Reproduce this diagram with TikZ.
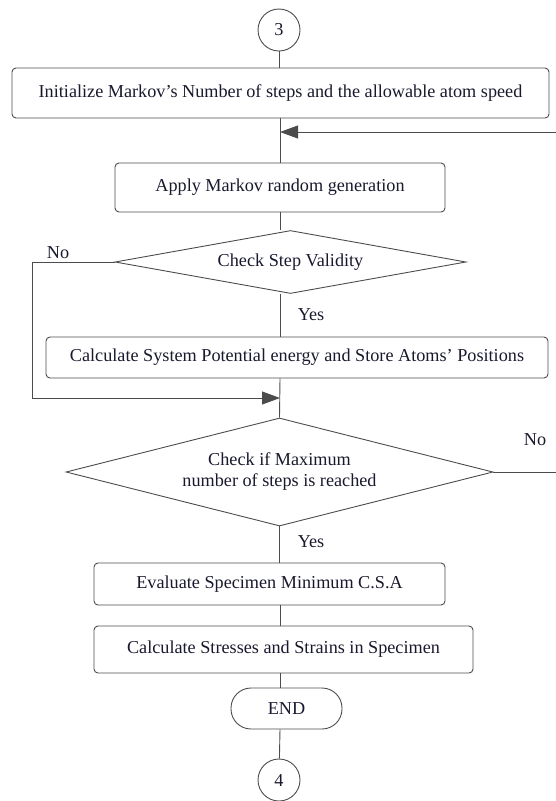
\documentclass[tikz,border=0pt]{standalone}
\usepackage{fontspec}
\setmainfont{Liberation Serif}
\usetikzlibrary{shapes.geometric,arrows.meta}
\definecolor{ln}{rgb}{0.30,0.30,0.30}
\definecolor{tx}{rgb}{0.10,0.10,0.18}
\tikzset{
  base/.style={draw=ln, line width=0.9pt, text=tx, font=\fontsize{18.2}{20}\selectfont, inner sep=0pt},
  proc/.style={base, rectangle, rounded corners=4pt},
  dec/.style={base, diamond, align=center},
  term/.style={base, rectangle, rounded corners=20pt},
  conn/.style={base, circle, minimum size=42pt},
  link/.style={draw=ln, line width=0.9pt},
  arr/.style={link, -{Triangle[length=18pt,width=13pt]}},
  lbl/.style={text=tx, font=\fontsize{18.2}{20}\selectfont, inner sep=0pt}
}
\begin{document}
\begin{tikzpicture}[x=1pt,y=-1pt]
\useasboundingbox (0,0) rectangle (556,801);
\coordinate (ax) at (280,0);
\node[conn] (c3) at (279,30) {3};
\node[proc, minimum width=537pt, minimum height=50pt] (b1) at (280.5,93) {Initialize Markov’s Number of steps and the allowable atom speed};
\node[proc, minimum width=330pt, minimum height=49pt] (b2) at (280,187.5) {Apply Markov random generation};
\node[dec, aspect=5.57, minimum width=351pt, minimum height=63pt] (d1) at (290.5,262) {Check Step Validity};
\node[proc, minimum width=502pt, minimum height=41pt] (b3) at (297,357.5) {Calculate System Potential energy and Store Atoms’ Positions};
\node[dec, aspect=3.95, minimum width=427pt, minimum height=108pt] (d2) at (279.5,472) {Check if Maximum\\[1pt]number of steps is reached};
\node[proc, minimum width=351pt, minimum height=42pt] (b4) at (269.5,584) {Evaluate Specimen Minimum C.S.A};
\node[proc, minimum width=379pt, minimum height=47pt] (b5) at (283.5,649.5) {Calculate Stresses and Strains in Specimen};
\node[term, minimum width=111pt, minimum height=41pt] (e) at (286.5,708.5) {END};
\node[conn] (c4) at (279,780) {4};
\coordinate (j1) at (280,132);
\coordinate (r1) at (556,132);
\coordinate (j2) at (280,398);
\coordinate (l1) at (32,398);
\coordinate (r2) at (556,472);
\node[lbl] (no1) at (58,253) {No};
\node[lbl] (yes1) at (311,315) {Yes};
\node[lbl] (no2) at (535,440) {No};
\node[lbl] (yes2) at (311,542) {Yes};
\draw[link] (c3) -- (c3 |- b1.north);
\draw[link] (b1.south -| ax) -- (b2.north -| ax);
\draw[arr] (r1) -- (j1);
\draw[link] (b2.south -| ax) -- (d1.north -| ax);
\draw[link] (d1.south -| ax) -- (b3.north -| ax);
\draw[arr] (d1.west) -| (l1) -- (j2);
\draw[link] (b3.south -| ax) -- (d2.north);
\draw[link] (d2.east) -- (r2);
\draw[link] (d2.south) -- (b4.north -| d2.south);
\draw[link] (b4.south -| ax) -- (b5.north -| ax);
\draw[link] (b5.south -| ax) -- (e.north -| ax);
\draw[link] (e.south -| ax) -- (c4);
\end{tikzpicture}
\end{document}
